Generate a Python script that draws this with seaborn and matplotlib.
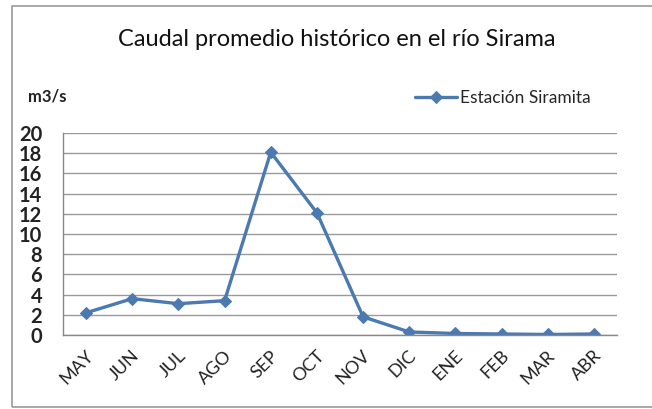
import pandas as pd
import numpy as np
import matplotlib.pyplot as plt
import seaborn as sns
from matplotlib.patches import Rectangle
from matplotlib.transforms import ScaledTranslation

meses = ['MAY', 'JUN', 'JUL', 'AGO', 'SEP', 'OCT', 'NOV', 'DIC', 'ENE', 'FEB', 'MAR', 'ABR']
caudal = [2.2, 3.6, 3.1, 3.4, 18.1, 12.1, 1.8, 0.3, 0.15, 0.1, 0.05, 0.1]
serie = 'Estación Siramita'
titulo = 'Caudal promedio histórico en el río Sirama'
unidad = 'm3/s'

sns.set_theme(style='white')
plt.rcParams['font.family'] = ['Lato', 'DejaVu Sans']

df = pd.DataFrame({'mes': meses, 'caudal': caudal})
color = '#4b79b0'

fig = plt.figure(figsize=(6.52, 4.09), dpi=100)
fig.patch.set_facecolor('white')
# chart frame
fig.patches.append(Rectangle((12 / 652, 2 / 409), 1.0, 401 / 409, transform=fig.transFigure,
                             fill=False, edgecolor='#9a9a9a', linewidth=1.2))

ax = fig.add_axes([63 / 652, 74 / 409, 554 / 652, 202 / 409])
sns.lineplot(data=df, x='mes', y='caudal', sort=False, ax=ax, color=color, linewidth=2.4,
             marker='D', markersize=6, markeredgecolor=color, label=serie)

ax.set_xlim(-0.5, len(meses) - 0.5)
ax.set_ylim(0, 20)
ax.set_yticks(np.arange(0, 21, 2))
ax.set_xticks(range(len(meses)))
ax.set_xticklabels(meses, rotation=45, fontsize=13, color='#222222')
ax.set_xticks(np.arange(-0.5, len(meses), 1), minor=True)
ax.tick_params(axis='x', which='major', length=0, pad=9)
ax.tick_params(axis='x', which='minor', length=5, width=1, color='#888888', direction='out')
ax.tick_params(axis='y', length=5, width=1, color='#888888', direction='out', labelsize=14.5, pad=10)
for lbl in ax.get_yticklabels():
    lbl.set_fontweight('bold')
    lbl.set_color('#222222')
shift = ScaledTranslation(-1 / 100, 0, fig.dpi_scale_trans)
for lbl in ax.get_xticklabels():
    lbl.set_ha('right')
    lbl.set_rotation_mode('anchor')
    lbl.set_transform(lbl.get_transform() + shift)

ax.yaxis.grid(True, color='#9a9a9a', linewidth=1.0)
ax.set_axisbelow(True)
for s in ['top', 'right']:
    ax.spines[s].set_visible(False)
for s in ['left', 'bottom']:
    ax.spines[s].set_color('#888888')
    ax.spines[s].set_linewidth(1.0)
ax.set_xlabel('')
ax.set_ylabel('')

ax.legend(loc='center right', bbox_to_anchor=(0.965, 1.175), frameon=False, fontsize=12.5,
          handlelength=2.4, handletextpad=0.2, borderaxespad=0)

fig.text(337 / 652, 1 - 40 / 409, titulo, ha='center', va='center', fontsize=17, color='#111111')
fig.text(28 / 652, 1 - 97 / 409, unidad, ha='left', va='center', fontsize=12, fontweight='bold', color='#222222')

fig.savefig('out.png', dpi=100)
